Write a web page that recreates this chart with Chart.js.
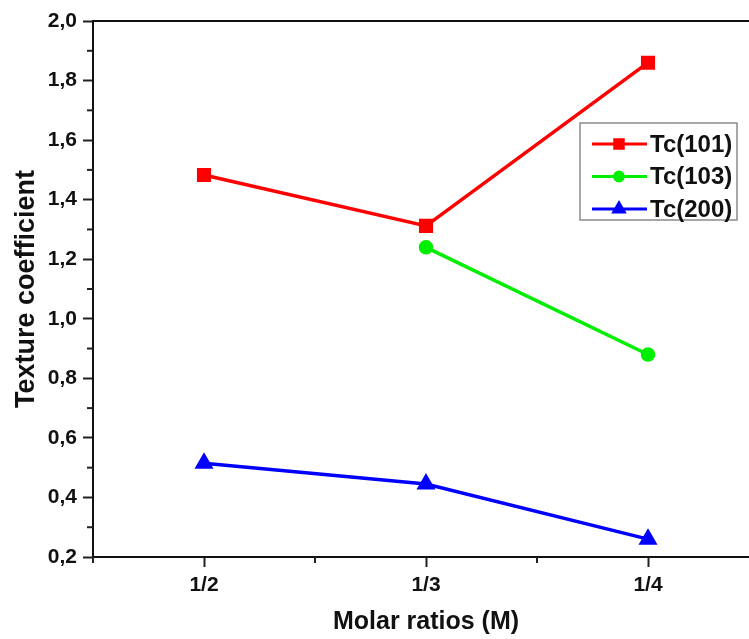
<!DOCTYPE html>
<html>
<head>
<meta charset="utf-8">
<script src="https://cdn.jsdelivr.net/npm/chart.js@4.4.1/dist/chart.umd.min.js"></script>
<style>
  body { margin: 0; background: #fff; overflow: hidden; }
</style>
</head>
<body>
<canvas id="myChart" width="770" height="639"></canvas>
<script>
// data
let ratios = ['1/2', '1/3', '1/4'];
let tc101 = [1.483, 1.312, 1.860];
let tc103 = [null, 1.240, 0.880];
let tc200 = [0.515, 0.445, 0.260];
let seriesNames = ['Tc(101)', 'Tc(103)', 'Tc(200)'];
let yTicks = [0.2, 0.4, 0.6, 0.8, 1.0, 1.2, 1.4, 1.6, 1.8, 2.0];

let fontName = '"Liberation Sans", Arial, sans-serif';

function fmt(v) {
  return v.toFixed(1).replace('.', ',');
}

// top spine, minor ticks and the boxed legend
const decorPlugin = {
  id: 'decor',
  afterDraw(chart) {
    const {ctx, chartArea: a, scales: {x, y}} = chart;
    ctx.save();
    ctx.strokeStyle = '#111';
    ctx.lineWidth = 2;
    ctx.beginPath();
    ctx.moveTo(a.left - 1, a.top);
    ctx.lineTo(a.right, a.top);
    ctx.stroke();

    ctx.strokeStyle = '#222';
    for (let i = 0; i < yTicks.length - 1; i++) {
      let py = y.getPixelForValue((yTicks[i] + yTicks[i + 1]) / 2);
      ctx.beginPath();
      ctx.moveTo(a.left - 6, py);
      ctx.lineTo(a.left, py);
      ctx.stroke();
    }
    for (let i = -0.5; i < ratios.length; i++) {
      let px = x.getPixelForValue(i);
      ctx.beginPath();
      ctx.moveTo(px, a.bottom);
      ctx.lineTo(px, a.bottom + 6);
      ctx.stroke();
    }

    // legend
    let box = {x: 580, y: 123, w: 157, h: 97};
    ctx.strokeStyle = '#8a8a8a';
    ctx.lineWidth = 1.5;
    ctx.strokeRect(box.x, box.y, box.w, box.h);
    ctx.font = 'bold 24px ' + fontName;
    ctx.textBaseline = 'middle';
    chart.data.datasets.forEach((ds, i) => {
      let ly = 144 + i * 32.5;
      ctx.strokeStyle = ds.borderColor;
      ctx.lineWidth = 3;
      ctx.beginPath();
      ctx.moveTo(592, ly);
      ctx.lineTo(647, ly);
      ctx.stroke();
      ctx.fillStyle = ds.borderColor;
      Chart.helpers.drawPoint(ctx, {
        pointStyle: ds.pointStyle,
        radius: ds.pointRadius * 0.8,
        rotation: 0,
        borderWidth: 1
      }, 619, ly);
      ctx.fillStyle = '#111';
      ctx.fillText(seriesNames[i], 650, ly + 1);
    });
    ctx.restore();
  }
};

let colors = ['#ff0000', '#00ee00', '#0000ff'];
let ctxChart = document.getElementById('myChart').getContext('2d');

let chart1 = new Chart(ctxChart, {
  type: 'line',
  data: {
    labels: ratios,
    datasets: [
      {
        label: seriesNames[0], data: tc101,
        borderColor: colors[0], backgroundColor: colors[0],
        borderWidth: 3.5, pointStyle: 'rect', pointRadius: 7.5
      },
      {
        label: seriesNames[1], data: tc103,
        borderColor: colors[1], backgroundColor: colors[1],
        borderWidth: 3.5, pointStyle: 'circle', pointRadius: 5.5
      },
      {
        label: seriesNames[2], data: tc200,
        borderColor: colors[2], backgroundColor: colors[2],
        borderWidth: 3.5, pointStyle: 'triangle', pointRadius: 7.5
      }
    ]
  },
  options: {
    responsive: false,
    animation: false,
    layout: { padding: { top: 21, right: 10, left: 0, bottom: 0 } },
    plugins: {
      legend: { display: false },
      tooltip: { enabled: false }
    },
    scales: {
      x: {
        type: 'category',
        offset: true,
        grid: {
          offset: false,
          drawOnChartArea: false,
          tickLength: 10,
          tickWidth: 2,
          tickColor: '#222'
        },
        border: { display: true, color: '#111', width: 2 },
        ticks: {
          color: '#111',
          padding: 6,
          font: { family: fontName, size: 21, weight: 'bold' }
        },
        title: {
          display: true,
          text: 'Molar ratios (M)',
          color: '#111',
          padding: { top: 0, bottom: 2 },
          font: { family: fontName, size: 25, weight: 'bold' }
        },
        afterFit(scale) { scale.height = 82; }
      },
      y: {
        min: 0.2,
        max: 2.0,
        afterBuildTicks(scale) {
          scale.ticks = yTicks.map(v => ({ value: v }));
        },
        grid: {
          drawOnChartArea: false,
          tickLength: 10,
          tickWidth: 2,
          tickColor: '#222'
        },
        border: { display: true, color: '#111', width: 2 },
        ticks: {
          color: '#111',
          padding: 6,
          font: { family: fontName, size: 21, weight: 'bold' },
          callback: v => fmt(v)
        },
        title: {
          display: true,
          text: 'Texture coefficient',
          color: '#111',
          padding: { top: 10, bottom: 0 },
          font: { family: fontName, size: 27, weight: 'bold' }
        },
        afterFit(scale) { scale.width = 93; }
      }
    }
  },
  plugins: [decorPlugin]
});
</script>
</body>
</html>
